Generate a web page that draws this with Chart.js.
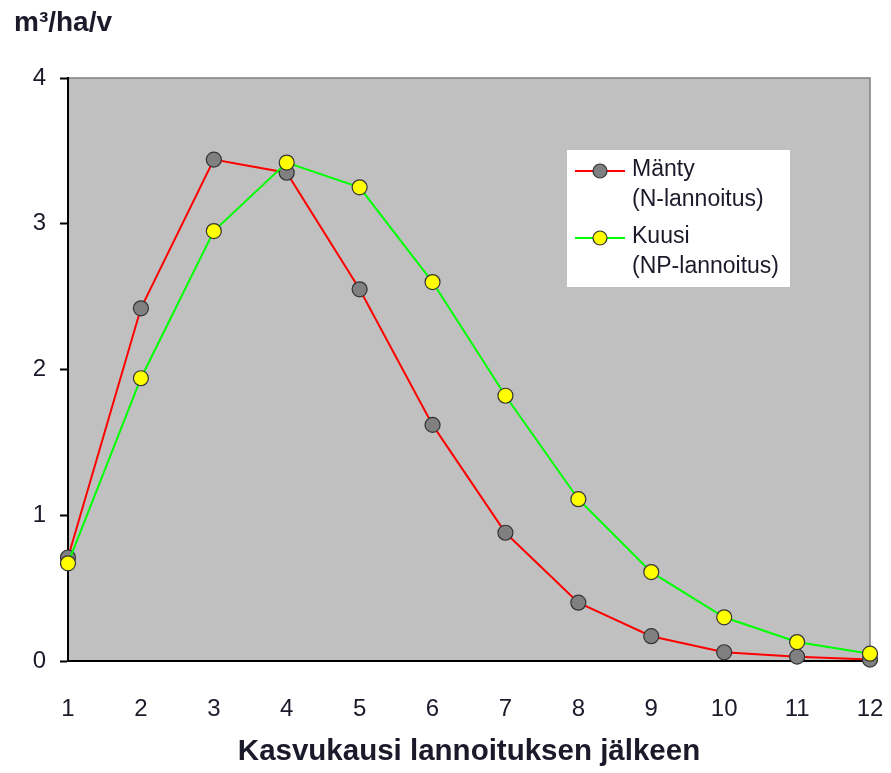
<!DOCTYPE html>
<html>
<head>
<meta charset="utf-8">
<script src="https://cdn.jsdelivr.net/npm/chart.js@4"></script>
<style>
  html, body { margin: 0; padding: 0; background: #fff; }
  #wrap { width: 891px; height: 773px; }
</style>
</head>
<body>
<div id="wrap"><canvas id="lineChart" width="891" height="773"></canvas></div>
<script>
// kasvukausi lannoituksen jälkeen
const seasons = [1, 2, 3, 4, 5, 6, 7, 8, 9, 10, 11, 12];
// m3/ha/v
const mantyValues = [0.71, 2.42, 3.44, 3.35, 2.55, 1.62, 0.88, 0.40, 0.17, 0.06, 0.03, 0.01];
const kuusiValues = [0.67, 1.94, 2.95, 3.42, 3.25, 2.60, 1.82, 1.11, 0.61, 0.30, 0.13, 0.05];
const mantyLabel = ['Mänty', '(N-lannoitus)'];
const kuusiLabel = ['Kuusi', '(NP-lannoitus)'];
const yTicks = [0, 1, 2, 3, 4];

const textColor = '#1a1a2a';
const fontFam = '"Liberation Sans", Arial, sans-serif';

// harmaa piirtoalue + reunat
const plotBg = {
    id: 'plotBg',
    beforeDraw(chart) {
        const { ctx, chartArea: a } = chart;
        ctx.save();
        ctx.fillStyle = '#c0c0c0';
        ctx.fillRect(a.left, a.top, a.right - a.left, a.bottom - a.top);
        ctx.strokeStyle = '#808080';
        ctx.lineWidth = 1.5;
        ctx.beginPath();
        ctx.moveTo(a.left, a.top);
        ctx.lineTo(a.right, a.top);
        ctx.lineTo(a.right, a.bottom);
        ctx.stroke();
        ctx.restore();
    }
};

// yksikkö vasempaan yläkulmaan + oma selite
const extras = {
    id: 'extras',
    afterDraw(chart) {
        const ctx = chart.ctx;
        ctx.save();
        ctx.fillStyle = textColor;
        ctx.font = 'bold 28px ' + fontFam;
        ctx.textBaseline = 'middle';
        ctx.textAlign = 'left';
        ctx.fillText('m³/ha/v', 14, 23);

        // selitelaatikko
        const bx = 567, by = 150, bw = 223, bh = 137;
        ctx.fillStyle = '#ffffff';
        ctx.fillRect(bx, by, bw, bh);

        const rows = [
            { ds: chart.data.datasets[1], y: 171 },
            { ds: chart.data.datasets[0], y: 238 }
        ];
        rows.forEach(r => {
            ctx.strokeStyle = r.ds.borderColor;
            ctx.lineWidth = 2;
            ctx.beginPath();
            ctx.moveTo(575, r.y);
            ctx.lineTo(625, r.y);
            ctx.stroke();
            ctx.beginPath();
            ctx.arc(600, r.y, 7, 0, Math.PI * 2);
            ctx.fillStyle = r.ds.pointBackgroundColor;
            ctx.fill();
            ctx.strokeStyle = '#333';
            ctx.lineWidth = 1.2;
            ctx.stroke();
            ctx.fillStyle = textColor;
            ctx.font = '23px ' + fontFam;
            r.ds.label.forEach((line, i) => {
                ctx.fillText(line, 632, r.y - 1 + i * 30);
            });
        });
        ctx.restore();
    }
};

const ctx = document.getElementById('lineChart').getContext('2d');
const chart = new Chart(ctx, {
    type: 'line',
    data: {
        datasets: [
            {
                label: kuusiLabel,
                data: seasons.map((s, i) => ({ x: s, y: kuusiValues[i] })),
                borderColor: '#00ff00',
                borderWidth: 2,
                pointBackgroundColor: '#ffff00',
                pointBorderColor: '#333',
                pointBorderWidth: 1.2,
                pointRadius: 7.5,
                tension: 0,
                clip: 8,
                order: 0
            },
            {
                label: mantyLabel,
                data: seasons.map((s, i) => ({ x: s, y: mantyValues[i] })),
                borderColor: '#ff0000',
                borderWidth: 2,
                pointBackgroundColor: '#808080',
                pointBorderColor: '#333',
                pointBorderWidth: 1.2,
                pointRadius: 7.5,
                tension: 0,
                clip: 8,
                order: 1
            }
        ]
    },
    options: {
        responsive: false,
        animation: false,
        layout: { padding: { left: 0, right: 21, top: 78, bottom: 0 } },
        plugins: {
            legend: { display: false },
            tooltip: { enabled: false }
        },
        scales: {
            x: {
                type: 'linear',
                min: 1,
                max: 12,
                afterFit: s => { s.height = 112; s.paddingLeft = 0; s.paddingRight = 0; },
                afterBuildTicks: s => { s.ticks = seasons.map(v => ({ value: v })); },
                grid: { display: false, drawOnChartArea: false, tickLength: 8, tickColor: '#000', tickWidth: 2 },
                border: { display: true, color: '#000', width: 2 },
                ticks: {
                    color: textColor,
                    padding: 26,
                    maxRotation: 0,
                    autoSkip: false,
                    font: { family: fontFam, size: 24 }
                },
                title: {
                    display: true,
                    text: 'Kasvukausi lannoituksen jälkeen',
                    color: textColor,
                    padding: { top: 0, bottom: 3 },
                    font: { family: fontFam, size: 29.5, weight: 'bold' }
                }
            },
            y: {
                min: 0,
                max: 4,
                afterFit: s => { s.width = 68; },
                afterBuildTicks: s => { s.ticks = yTicks.map(v => ({ value: v })); },
                grid: { display: true, drawOnChartArea: false, tickLength: 8, tickColor: '#000', tickWidth: 2 },
                border: { display: true, color: '#000', width: 2 },
                ticks: {
                    color: textColor,
                    padding: 14,
                    font: { family: fontFam, size: 24 }
                }
            }
        }
    },
    plugins: [plotBg, extras]
});
</script>
</body>
</html>
